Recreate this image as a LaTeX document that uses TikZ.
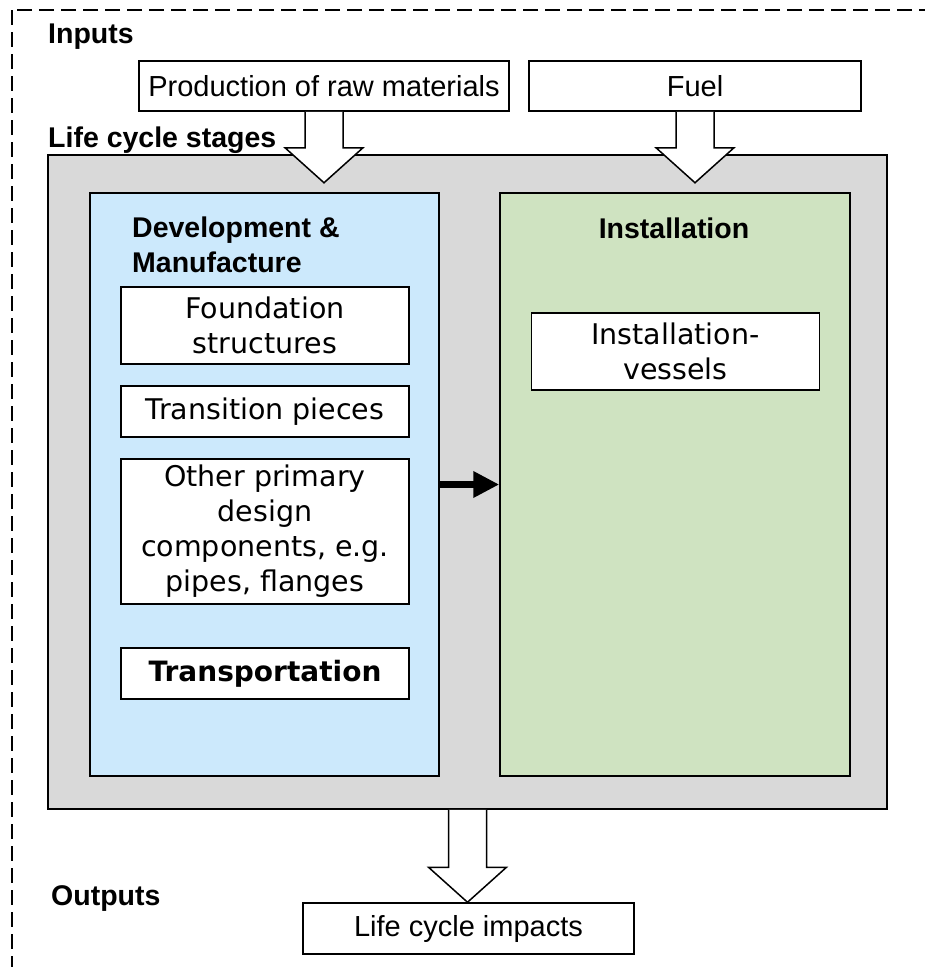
\documentclass[tikz,border=0pt]{standalone}
\usepackage{fontspec}
\setmainfont{Liberation Sans}
\newfontfamily\verdana{DejaVu Sans}
\usetikzlibrary{arrows.meta,calc}

\definecolor{stagegray}{RGB}{217,217,217}
\definecolor{devblue}{RGB}{204,233,252}
\definecolor{instgreen}{RGB}{207,227,193}

\tikzset{
  plainbox/.style={draw, fill=white, line width=1.5pt, align=center, inner sep=0pt,
    font=\fontsize{29}{35}\selectfont},
  partbox/.style={plainbox, font=\verdana\fontsize{28.5}{35}\selectfont, minimum width=288pt},
  stagebox/.style={draw, line width=1.5pt, inner sep=0pt},
  heading/.style={font=\bfseries\fontsize{28.5}{35}\selectfont, inner sep=0pt, align=left},
  hollow/.style={draw, fill=white, line width=1.5pt, line join=miter,
    to path={let \p1=(\tikztostart), \p2=(\tikztotarget) in
      (\x1-19pt,\y1) -- (\x1-19pt,\y2+35pt) -- (\x1-39pt,\y2+35pt) -- (\x1,\y2)
      -- (\x1+39pt,\y2+35pt) -- (\x1+19pt,\y2+35pt) -- (\x1+19pt,\y1)}},
}

\begin{document}
\begin{tikzpicture}[x=1pt, y=-1pt]
  \useasboundingbox (0,0) rectangle (925,967);
  % System boundary
  \draw[line width=1.8pt, dash pattern=on 15pt off 7pt] (12,10) rectangle (945,990);

  % Inputs
  \node[heading, anchor=west] (inputs) at (48,37) {Inputs};
  \node[plainbox, minimum width=370pt, minimum height=50pt] (prod) at (324,86) {Production of raw materials};
  \node[plainbox, minimum width=332pt, minimum height=50pt] (fuel) at (695,86) {Fuel};

  % Life cycle stages
  \node[heading, anchor=west] (stages) at (48,140) {Life cycle stages};
  \node[stagebox, fill=stagegray, minimum width=839pt, minimum height=654pt] (gray) at (467.5,482) {};
  \node[stagebox, fill=devblue, minimum width=349pt, minimum height=583pt] (dev) at (264.5,484.5) {};
  \node[stagebox, fill=instgreen, minimum width=350pt, minimum height=583pt] (inst) at (675,484.5) {};

  \node[heading, anchor=west] (devtitle) at (132,244.5) {Development \&\\Manufacture};
  \node[heading] (insttitle) at (674,228) {Installation};

  \node[partbox, minimum height=77pt] (found) at (265,325.5) {Foundation\\structures};
  \node[partbox, minimum height=51pt] (trans) at (265,411.5) {Transition pieces};
  \node[partbox, minimum height=145pt] (other) at (265,531.5) {Other primary\\design\\components, e.g.\\pipes, flanges};
  \node[partbox, minimum height=51pt, font=\verdana\bfseries\fontsize{28}{35}\selectfont] (transport) at (265,673.5) {Transportation};
  \node[partbox, minimum height=77pt] (vessels) at (675.5,351.5) {Installation-\\vessels};

  \draw[line width=7pt, -{Triangle[length=26pt,width=25pt]}] (dev.east) -- (inst.west);

  % Outputs
  \node[heading, anchor=west] (outputs) at (51,898) {Outputs};
  \node[plainbox, minimum width=331pt, minimum height=51pt] (impacts) at (468.5,928.5) {Life cycle impacts};

  % Flow arrows
  \coordinate (prodtip) at ($(prod.south)+(0,71)$);
  \coordinate (fueltip) at ($(fuel.south)+(0,71)$);
  \draw[hollow] (prod.south) to (prodtip);
  \draw[hollow] (fuel.south) to (fueltip);
  \draw[hollow] (gray.south) to (impacts.north);
\end{tikzpicture}
\end{document}
